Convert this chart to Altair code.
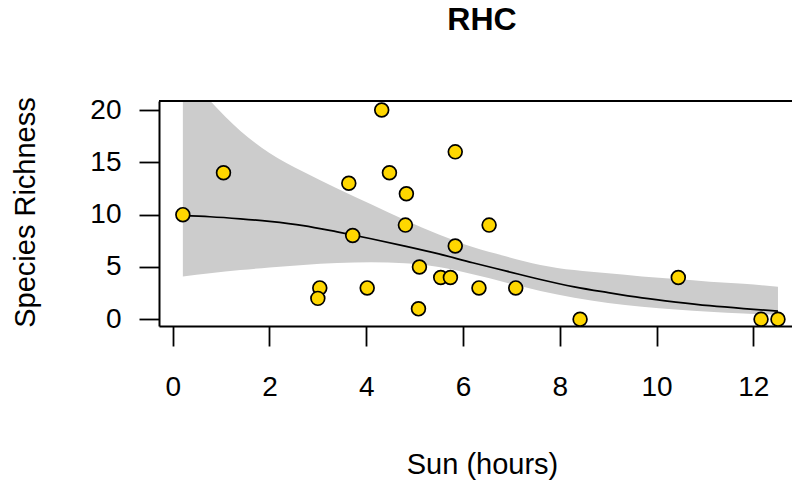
import altair as alt
import pandas as pd

# Sites: hours of direct sun and the number of species recorded
sun_hours = [0.21, 1.05, 4.32, 3.64, 4.48, 5.84, 4.83, 4.81, 3.72, 5.84, 5.10, 5.54,
             5.74, 3.04, 3.00, 4.02, 5.08, 6.54, 6.33, 7.09, 8.42, 10.45, 12.16, 12.51]
richness = [10, 14, 20, 13, 14, 16, 12, 9, 8, 7, 5, 4,
            4, 3, 2, 3, 1, 9, 3, 3, 0, 4, 0, 0]

# Fitted curve and its confidence band
fit_x = [0.21, 0.77, 1.4, 2.0, 2.7, 3.4, 4.1, 4.8, 5.5, 6.2, 6.9, 7.6, 8.3,
         9.0, 9.7, 10.4, 11.1, 11.8, 12.51]
fit_mid = [9.9, 9.8, 9.6, 9.35, 8.95, 8.35, 7.7, 7.0, 6.25, 5.4, 4.6, 3.8, 3.1,
           2.55, 2.05, 1.65, 1.3, 1.02, 0.78]
fit_low = [4.1, 4.4, 4.7, 4.95, 5.2, 5.38, 5.45, 5.35, 5.0, 4.3, 3.5, 2.7, 2.05,
           1.55, 1.2, 0.93, 0.72, 0.55, 0.42]
fit_high = [24.0, 20.9, 18.0, 15.9, 14.1, 12.5, 11.0, 9.5, 8.1, 6.9, 6.0, 5.2, 4.7,
            4.4, 4.1, 3.85, 3.6, 3.4, 3.1]

x_ticks = [0, 2, 4, 6, 8, 10, 12]
y_ticks = [0, 5, 10, 15, 20]

points = pd.DataFrame({"sun": sun_hours, "richness": richness})
fit = pd.DataFrame({"sun": fit_x, "mid": fit_mid, "low": fit_low, "high": fit_high})

FONT = "Liberation Sans"

x_scale = alt.Scale(domain=[-0.283, 12.80], nice=False, zero=False)
y_scale = alt.Scale(domain=[-0.64, 20.86], nice=False, zero=False)

x_axis = alt.Axis(
    values=x_ticks, title="Sun (hours)", titleX=323, titleY=147,
    titleAlign="center", titleBaseline="alphabetic",
    labelPadding=27, tickSize=20,
)
y_axis = alt.Axis(
    values=y_ticks, title="Species Richness", titleAngle=270,
    titleX=-124.5, titleY=111, titleAlign="center", titleBaseline="alphabetic",
    labelPadding=18, tickSize=20,
)

band = alt.Chart(fit).mark_area(color="#cccccc", interpolate="monotone", clip=True).encode(
    x=alt.X("sun:Q", scale=x_scale, axis=x_axis),
    y=alt.Y("low:Q", scale=y_scale, axis=y_axis),
    y2="high:Q",
)

curve = alt.Chart(fit).mark_line(color="black", strokeWidth=1.7, interpolate="monotone").encode(
    x=alt.X("sun:Q", scale=x_scale),
    y=alt.Y("mid:Q", scale=y_scale),
)

dots = alt.Chart(points).mark_point(
    shape="circle", filled=True, fill="#FFD700", stroke="black",
    strokeWidth=1.7, size=190, opacity=1,
).encode(
    x=alt.X("sun:Q", scale=x_scale),
    y=alt.Y("richness:Q", scale=y_scale),
)

# Top edge of the plot frame
top_edge = alt.Chart(points).mark_rule(color="black", strokeWidth=2).encode(
    y=alt.value(0)
)

chart = alt.layer(band, curve, dots, top_edge).properties(
    width=633,
    height=225,
    autosize=alt.AutoSizeParams(type="none"),
    padding={"left": 159, "top": 101, "right": 0, "bottom": 155},
    title=alt.TitleParams(
        "RHC", font=FONT, fontSize=32, fontWeight="bold", color="black",
        anchor="middle", frame="group", baseline="alphabetic", offset=34, dx=6.5,
    ),
).configure_view(
    strokeWidth=0
).configure_axis(
    grid=False,
    domainColor="black", domainWidth=2,
    tickColor="black", tickWidth=1.8,
    labelFont=FONT, labelFontSize=28, labelColor="black",
    titleFont=FONT, titleFontSize=29, titleFontWeight="normal", titleColor="black",
)

chart.save("out.html", embed_options={"renderer": "svg", "actions": False})
